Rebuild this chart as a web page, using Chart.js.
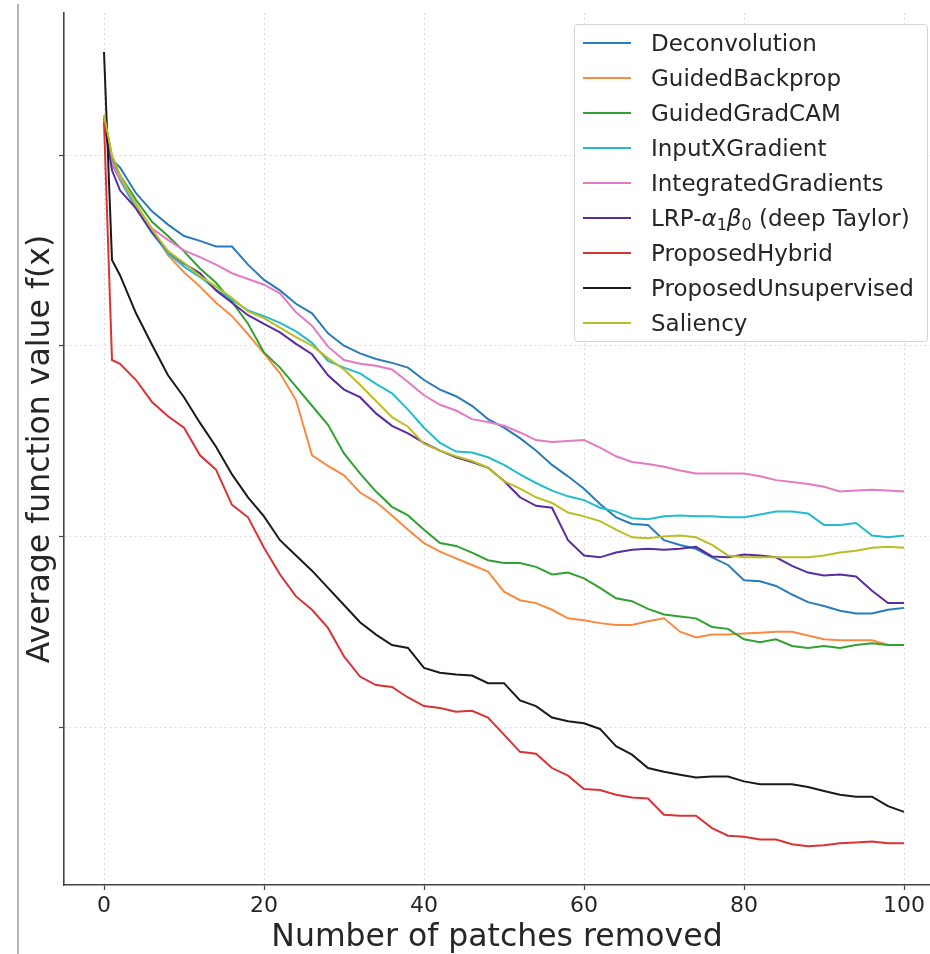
<!DOCTYPE html>
<html>
<head>
<meta charset="utf-8">
<script src="https://cdn.jsdelivr.net/npm/chart.js@4.4.1/dist/chart.umd.min.js"></script>
<style>
  html, body { margin: 0; padding: 0; background: #fff; }
  #wrap { position: relative; width: 930px; height: 954px; overflow: hidden; }
  #edge { position: absolute; left: 17px; top: 4px; bottom: 0; border-left: 2px solid #b4b4b4; }
  #legend {
    position: absolute; left: 574px; top: 24px; width: 354px; height: 318px;
    box-sizing: border-box; border: 1px solid #d4d4d4; border-radius: 4px;
    background: rgba(255,255,255,0.85);
    font-family: 'DejaVu Sans', sans-serif; font-size: 23px; color: #262626;
  }
  .leg-row { height: 35px; display: flex; align-items: center; white-space: nowrap; }
  .leg-line { width: 48px; height: 2px; margin-left: 8px; margin-right: 20px; flex: none; }
  .leg-row sub { font-size: 16px; vertical-align: -4px; line-height: 0; }
</style>
</head>
<body>
<div id="wrap">
  <canvas id="chartLines"></canvas>
  <div id="edge"></div>
  <div id="legend"></div>
</div>
<script>
// number of patches removed (x)
const patches = [0,1,2,4,6,8,10,12,14,16,18,20,22,24,26,28,30,32,34,36,38,40,42,44,46,48,50,
  52,54,56,58,60,62,64,66,68,70,72,74,76,78,80,82,84,86,88,90,92,94,96,98,100];

const deconvolution = [0.839,0.795,0.787,0.760,0.741,0.727,0.715,0.710,0.704,0.704,0.685,0.669,0.658,0.644,0.634,0.613,0.600,0.592,0.586,0.582,0.577,0.564,0.554,0.547,0.537,0.523,0.514,
  0.503,0.490,0.475,0.463,0.450,0.434,0.420,0.413,0.412,0.396,0.391,0.387,0.378,0.370,0.354,0.353,0.348,0.339,0.331,0.327,0.322,0.319,0.319,0.323,0.325];
const guidedBackprop = [0.842,0.797,0.774,0.748,0.722,0.695,0.677,0.662,0.645,0.631,0.612,0.592,0.571,0.543,0.485,0.474,0.464,0.446,0.436,0.422,0.407,0.393,0.384,0.377,0.370,0.363,0.342,
  0.333,0.330,0.323,0.314,0.312,0.309,0.307,0.307,0.311,0.314,0.300,0.294,0.297,0.297,0.298,0.299,0.300,0.300,0.296,0.292,0.291,0.291,0.291,0.286,0.286];
const guidedGradCam = [0.839,0.797,0.779,0.753,0.730,0.715,0.699,0.681,0.666,0.646,0.623,0.593,0.577,0.557,0.537,0.517,0.487,0.466,0.447,0.431,0.422,0.407,0.393,0.390,0.383,0.375,0.372,
  0.372,0.368,0.360,0.362,0.356,0.346,0.335,0.332,0.324,0.318,0.316,0.314,0.305,0.303,0.292,0.289,0.292,0.285,0.283,0.285,0.283,0.286,0.288,0.286,0.286];
const inputXGradient = [0.837,0.790,0.774,0.744,0.718,0.697,0.683,0.672,0.659,0.648,0.637,0.631,0.624,0.615,0.603,0.584,0.577,0.571,0.560,0.550,0.533,0.514,0.498,0.489,0.488,0.483,0.475,
  0.465,0.456,0.448,0.442,0.438,0.430,0.426,0.419,0.418,0.421,0.422,0.421,0.421,0.420,0.420,0.423,0.426,0.426,0.424,0.412,0.412,0.414,0.401,0.399,0.401];
const integratedGradients = [0.837,0.790,0.776,0.748,0.723,0.711,0.700,0.693,0.685,0.676,0.670,0.664,0.655,0.635,0.621,0.599,0.585,0.581,0.579,0.575,0.562,0.548,0.538,0.532,0.523,0.520,0.516,
  0.509,0.501,0.499,0.500,0.501,0.493,0.484,0.478,0.476,0.473,0.469,0.466,0.466,0.466,0.466,0.463,0.459,0.457,0.455,0.452,0.447,0.448,0.449,0.448,0.447];
const lrpDeepTaylor = [0.835,0.784,0.763,0.744,0.719,0.699,0.686,0.676,0.658,0.645,0.632,0.623,0.614,0.602,0.591,0.569,0.554,0.546,0.529,0.516,0.508,0.498,0.490,0.483,0.478,0.472,0.458,
  0.441,0.432,0.430,0.396,0.380,0.378,0.383,0.386,0.387,0.386,0.387,0.389,0.379,0.378,0.381,0.380,0.378,0.369,0.362,0.359,0.360,0.358,0.343,0.330,0.330];
const proposedHybrid = [0.835,0.585,0.581,0.564,0.541,0.526,0.514,0.485,0.470,0.433,0.420,0.388,0.360,0.337,0.323,0.304,0.274,0.253,0.244,0.242,0.231,0.222,0.220,0.216,0.217,0.210,0.192,
  0.174,0.172,0.157,0.149,0.135,0.134,0.129,0.126,0.125,0.108,0.107,0.107,0.094,0.086,0.085,0.082,0.082,0.077,0.075,0.076,0.078,0.079,0.080,0.078,0.078];
const proposedUnsupervised = [0.908,0.690,0.674,0.634,0.601,0.569,0.546,0.519,0.494,0.465,0.441,0.421,0.396,0.380,0.364,0.346,0.328,0.310,0.297,0.286,0.283,0.262,0.257,0.255,0.254,0.246,0.246,
  0.228,0.222,0.210,0.206,0.204,0.198,0.180,0.171,0.157,0.153,0.150,0.147,0.148,0.148,0.143,0.140,0.140,0.140,0.137,0.133,0.129,0.127,0.127,0.117,0.111];
const saliency = [0.842,0.800,0.779,0.748,0.722,0.699,0.687,0.673,0.662,0.650,0.636,0.629,0.619,0.609,0.600,0.587,0.575,0.559,0.542,0.525,0.515,0.497,0.490,0.484,0.479,0.472,0.458,
  0.450,0.441,0.435,0.425,0.421,0.416,0.407,0.399,0.398,0.400,0.401,0.399,0.391,0.380,0.378,0.378,0.378,0.378,0.378,0.380,0.383,0.385,0.388,0.389,0.388];

const methods = ['Deconvolution','GuidedBackprop','GuidedGradCAM','InputXGradient','IntegratedGradients',
  'LRP-α₁β₀ (deep Taylor)','ProposedHybrid','ProposedUnsupervised','Saliency'];
const seriesValues = [deconvolution, guidedBackprop, guidedGradCam, inputXGradient, integratedGradients,
  lrpDeepTaylor, proposedHybrid, proposedUnsupervised, saliency];
const colors = ['#2b7bba','#f98a42','#31a131','#23bccd','#e27bc3','#5a2ca0','#d93336','#1a1a1a','#bcbd22'];

const xTicks = [0, 20, 40, 60, 80, 100];
const yTicks = [0.2, 0.4, 0.6, 0.8];

const FONT = "'DejaVu Sans', sans-serif";
const gridColor = 'rgba(0,0,0,0.14)';

const datasets = methods.map((name, i) => ({
  label: name,
  data: seriesValues[i].map((v, k) => ({ x: patches[k], y: v })),
  borderColor: colors[i],
  backgroundColor: colors[i],
  borderWidth: 2,
  pointRadius: 0,
  tension: 0,
  fill: false,
  order: methods.length - 1 - i   // later series drawn on top, like matplotlib
}));

new Chart(document.getElementById('chartLines'), {
  type: 'line',
  data: { datasets },
  options: {
    responsive: true,
    maintainAspectRatio: false,
    animation: false,
    layout: { padding: { top: 13, left: 0, right: 0, bottom: 0 } },
    plugins: { legend: { display: false }, tooltip: { enabled: false } },
    scales: {
      x: {
        type: 'linear',
        min: -5,
        max: 103.25,
        afterBuildTicks: s => { s.ticks = xTicks.map(v => ({ value: v })); },
        afterFit: s => { s.height = 69; },
        grid: { color: gridColor, lineWidth: 1, tickLength: 5, tickColor: '#444', tickWidth: 1.2 },
        border: { display: true, color: '#444', width: 1.6, dash: [2, 3] },
        ticks: { color: '#262626', font: { family: FONT, size: 22 }, padding: 3, maxRotation: 0 },
        title: {
          display: true,
          text: 'Number of patches removed',
          color: '#262626',
          font: { family: FONT, size: 31.5, lineHeight: 1 },
          padding: { top: 0, bottom: 0 }
        }
      },
      y: {
        type: 'linear',
        min: 0.0343,
        max: 0.949,
        afterBuildTicks: s => { s.ticks = yTicks.map(v => ({ value: v })); },
        afterFit: s => { s.width = 64; },
        grid: { color: gridColor, lineWidth: 1, tickLength: 5, tickColor: '#444', tickWidth: 1.2 },
        border: { display: true, color: '#444', width: 1.6, dash: [2, 3] },
        ticks: { display: false },
        title: {
          display: true,
          text: 'Average function value f(x)',
          color: '#262626',
          font: { family: FONT, size: 31.5, lineHeight: 1 },
          padding: { top: 25, bottom: 0 }
        }
      }
    }
  }
});

// legend box, drawn as html over the axes
function legendLabel(name) {
  return name.replace(/([αβ])([₀-₉])/g, (m, g, d) =>
    '<i>' + g + '</i><sub>' + (d.charCodeAt(0) - 0x2080) + '</sub>');
}
document.getElementById('legend').innerHTML = methods.map((name, i) => `
  <div class="leg-row">
    <div class="leg-line" style="background:${colors[i]}"></div>
    <span>${legendLabel(name)}</span>
  </div>`).join('');
</script>
</body>
</html>
